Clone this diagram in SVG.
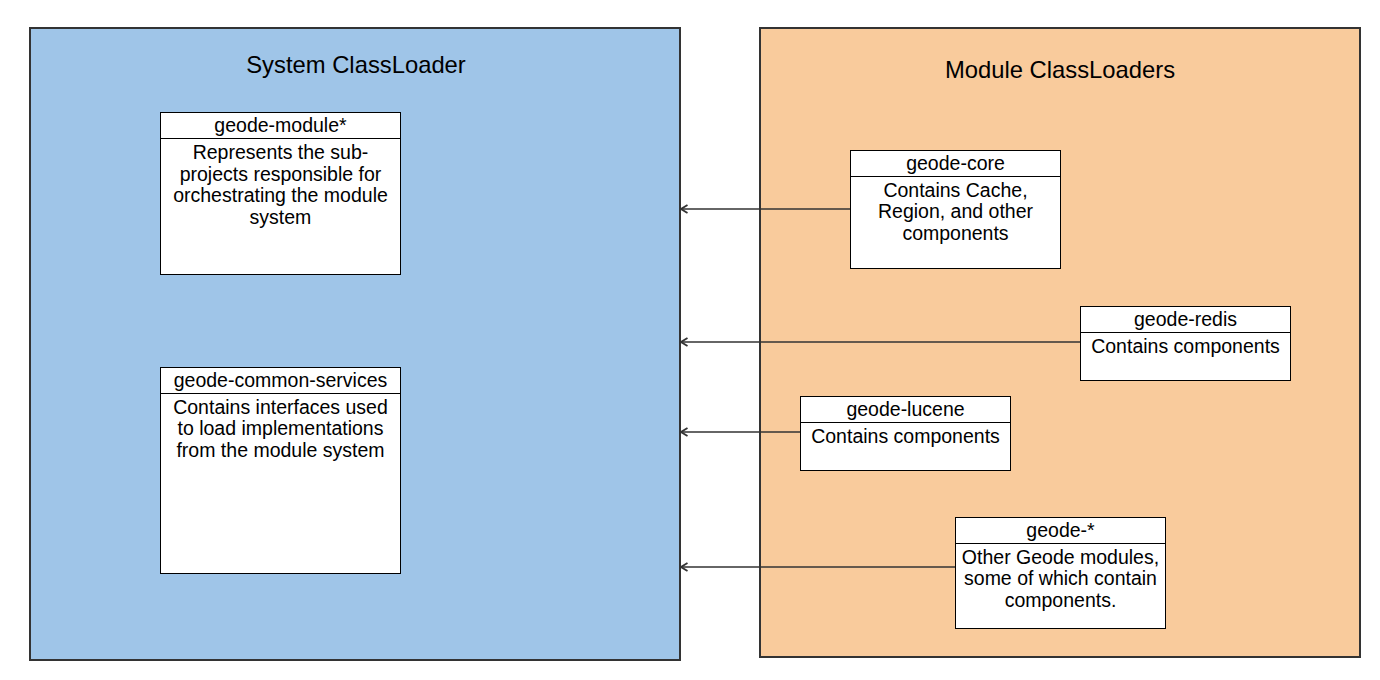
<svg xmlns="http://www.w3.org/2000/svg" width="1380" height="680" viewBox="0 0 1380 680">
<defs>
<style>
.cont{stroke:#333;stroke-width:2}
.box{fill:#fff;stroke:#000;stroke-width:1}
.t{font-family:"Liberation Sans",Arial,sans-serif;font-size:19.5px;fill:#000;text-anchor:middle}
.title{font-family:"Liberation Sans",Arial,sans-serif;font-size:23.8px;fill:#000;text-anchor:middle}
.edge{stroke:#333;stroke-width:1.6;fill:none}
</style>
<marker id="open" viewBox="0 0 10 10" refX="9" refY="5" markerWidth="10" markerHeight="10" markerUnits="userSpaceOnUse" orient="auto">
<path d="M2.5,1 L9,5 L2.5,9" fill="none" stroke="#333" stroke-width="1.8"/>
</marker>
</defs>
<rect width="1380" height="680" fill="#fff"/>
<g id="system-classloader">
<rect class="cont" x="30" y="28" width="650" height="632" fill="#9fc5e8"/>
<text class="title" x="356" y="73">System ClassLoader</text>
</g>
<g id="module-classloaders">
<rect class="cont" x="760" y="28" width="600" height="629" fill="#f9cb9c"/>
<text class="title" x="1060" y="78">Module ClassLoaders</text>
</g>
<g id="geode-module">
<rect class="box" x="160.5" y="112.5" width="240" height="162"/>
<line x1="160.5" y1="138.5" x2="400.5" y2="138.5" stroke="#000"/>
<text class="t" x="280.5" y="132">geode-module*</text>
<text class="t" x="280.5" y="159">Represents the sub-</text>
<text class="t" x="280.5" y="180.5">projects responsible for</text>
<text class="t" x="280.5" y="202">orchestrating the module</text>
<text class="t" x="280.5" y="223.5">system</text>
</g>
<g id="geode-common-services">
<rect class="box" x="160.5" y="367.5" width="240" height="206"/>
<line x1="160.5" y1="393.5" x2="400.5" y2="393.5" stroke="#000"/>
<text class="t" x="280.5" y="387">geode-common-services</text>
<text class="t" x="280.5" y="413.5">Contains interfaces used</text>
<text class="t" x="280.5" y="435">to load implementations</text>
<text class="t" x="280.5" y="456.5">from the module system</text>
</g>
<g id="geode-core">
<rect class="box" x="850.5" y="150.5" width="210" height="118"/>
<line x1="850.5" y1="176.5" x2="1060.5" y2="176.5" stroke="#000"/>
<text class="t" x="955.5" y="170">geode-core</text>
<text class="t" x="955.5" y="196.5">Contains Cache,</text>
<text class="t" x="955.5" y="218">Region, and other</text>
<text class="t" x="955.5" y="239.5">components</text>
</g>
<g id="geode-redis">
<rect class="box" x="1080.5" y="306.5" width="210" height="74"/>
<line x1="1080.5" y1="332.5" x2="1290.5" y2="332.5" stroke="#000"/>
<text class="t" x="1185.5" y="326">geode-redis</text>
<text class="t" x="1185.5" y="352.5">Contains components</text>
</g>
<g id="geode-lucene">
<rect class="box" x="800.5" y="396.5" width="210" height="74"/>
<line x1="800.5" y1="422.5" x2="1010.5" y2="422.5" stroke="#000"/>
<text class="t" x="905.5" y="416">geode-lucene</text>
<text class="t" x="905.5" y="442.5">Contains components</text>
</g>
<g id="geode-star">
<rect class="box" x="955.5" y="517.5" width="210" height="111"/>
<line x1="955.5" y1="543.5" x2="1165.5" y2="543.5" stroke="#000"/>
<text class="t" x="1060.5" y="537">geode-*</text>
<text class="t" x="1060.5" y="563.5">Other Geode modules,</text>
<text class="t" x="1060.5" y="585">some of which contain</text>
<text class="t" x="1060.5" y="606.5">components.</text>
</g>
<g id="connectors">
<line class="edge" x1="850" y1="209" x2="681" y2="209" marker-end="url(#open)"/>
<line class="edge" x1="1080" y1="342" x2="681" y2="342" marker-end="url(#open)"/>
<line class="edge" x1="800" y1="432" x2="681" y2="432" marker-end="url(#open)"/>
<line class="edge" x1="955" y1="567" x2="681" y2="567" marker-end="url(#open)"/>
</g>
</svg>
